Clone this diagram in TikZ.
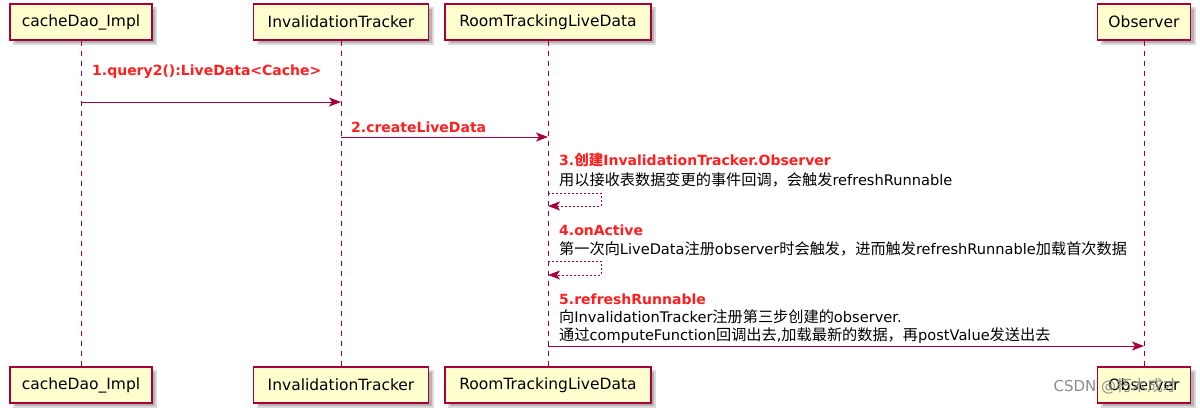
\documentclass[tikz,border=0pt]{standalone}
\usepackage{fontspec}
\setmainfont{DejaVu Sans}
\newfontfamily\zhfont[Scale=1.04]{Noto Sans CJK SC}
\newcommand{\zh}[1]{{\zhfont #1}}
\usetikzlibrary{positioning,arrows.meta,shadows}
\usepackage{xcolor}
\definecolor{lifered}{HTML}{A80036}
\definecolor{boxfill}{HTML}{FEFECE}
\definecolor{steptext}{HTML}{FF1F1F}

\tikzset{
  actor/.style={draw=lifered, fill=boxfill, line width=1.1pt, minimum height=36pt,
    inner sep=0pt, font=\fontsize{15.5}{18}\selectfont,
    general shadow={shadow xshift=4pt, shadow yshift=-4pt, fill=black!30, draw=black!15, line width=2pt}},
  lifeline/.style={draw=lifered, line width=1pt, dash pattern=on 5pt off 5pt},
  msg/.style={draw=lifered, line width=1pt, -{Stealth[length=12pt,width=9pt,inset=3pt]}},
  selfmsg/.style={msg, dash pattern=on 2pt off 2pt},
  steplbl/.style={text=steptext, font=\fontsize{14}{17}\selectfont\bfseries, inner sep=0pt, anchor=west},
  notetxt/.style={font=\fontsize{14.6}{19}\selectfont, inner sep=0pt, anchor=west}
}

\begin{document}
\begin{tikzpicture}[x=1pt, y=-1pt]
\useasboundingbox (0,0) rectangle (1200,416);
% participants, top row and bottom row
\node[actor, minimum width=142pt] (cdTop) at (81,22)   {cacheDao\_Impl};
\node[actor, minimum width=175pt] (itTop) at (341,22)  {InvalidationTracker};
\node[actor, minimum width=206pt] (rtTop) at (548,22)  {RoomTrackingLiveData};
\node[actor, minimum width=93pt]  (obTop) at (1144,22) {Observer};
\node[actor, minimum width=142pt] (cdBot) at (81,385)   {cacheDao\_Impl};
\node[actor, minimum width=175pt] (itBot) at (341,385)  {InvalidationTracker};
\node[actor, minimum width=206pt] (rtBot) at (548,385)  {RoomTrackingLiveData};
\node[actor, minimum width=93pt]  (obBot) at (1144,385) {Observer};
% lifelines
\draw[lifeline] (cdTop) -- (cdBot);
\draw[lifeline] (itTop) -- (itBot);
\draw[lifeline] (rtTop) -- (rtBot);
\draw[lifeline] (obTop) -- (obBot);

% 1. cacheDao_Impl -> InvalidationTracker
\node[steplbl] (lbl1) at (92,72) {1.query2():LiveData<Cache>};
\coordinate (m1a) at (81,102);
\coordinate (m1b) at (341,102);
\draw[msg] (m1a) -- (m1b);

% 2. InvalidationTracker -> RoomTrackingLiveData
\node[steplbl] (lbl2) at (351,127) {2.createLiveData};
\coordinate (m2a) at (341,137);
\coordinate (m2b) at (548,137);
\draw[msg] (m2a) -- (m2b);

% 3. self call on RoomTrackingLiveData
\node[steplbl] (lbl3) at (559,160) {3.\zh{创建}InvalidationTracker.Observer};
\node[notetxt] (txt3) at (559,180) {\zh{用以接收表数据变更的事件回调，会触发}refreshRunnable};
\coordinate (s3a) at (548,193);
\coordinate (s3b) at (548,206);
\draw[selfmsg] (s3a) -- ++(53,0) -- ++(0,13) -- (s3b);

% 4. self call on RoomTrackingLiveData
\node[steplbl] (lbl4) at (559,230) {4.onActive};
\node[notetxt] (txt4) at (559,249) {\zh{第一次向}LiveData\zh{注册}observer\zh{时会触发，进而触发}refreshRunnable\zh{加载首次数据}};
\coordinate (s4a) at (548,261);
\coordinate (s4b) at (548,275);
\draw[selfmsg] (s4a) -- ++(53,0) -- ++(0,14) -- (s4b);

% 5. RoomTrackingLiveData -> Observer
\node[steplbl] (lbl5) at (559,299) {5.refreshRunnable};
\node[notetxt] (txt5a) at (559,317) {\zh{向}InvalidationTracker\zh{注册第三步创建的}observer.};
\node[notetxt] (txt5b) at (559,336) {\zh{通过}computeFunction\zh{回调出去},\zh{加载最新的数据，再}postValue\zh{发送出去}};
\coordinate (m5a) at (548,346);
\coordinate (m5b) at (1144,346);
\draw[msg] (m5a) -- (m5b);

% watermark
\node[text=black!45, font=\fontsize{15}{18}\selectfont, anchor=east] (mark) at (1182,386) {CSDN @\zh{朽木成才}};
\end{tikzpicture}
\end{document}
